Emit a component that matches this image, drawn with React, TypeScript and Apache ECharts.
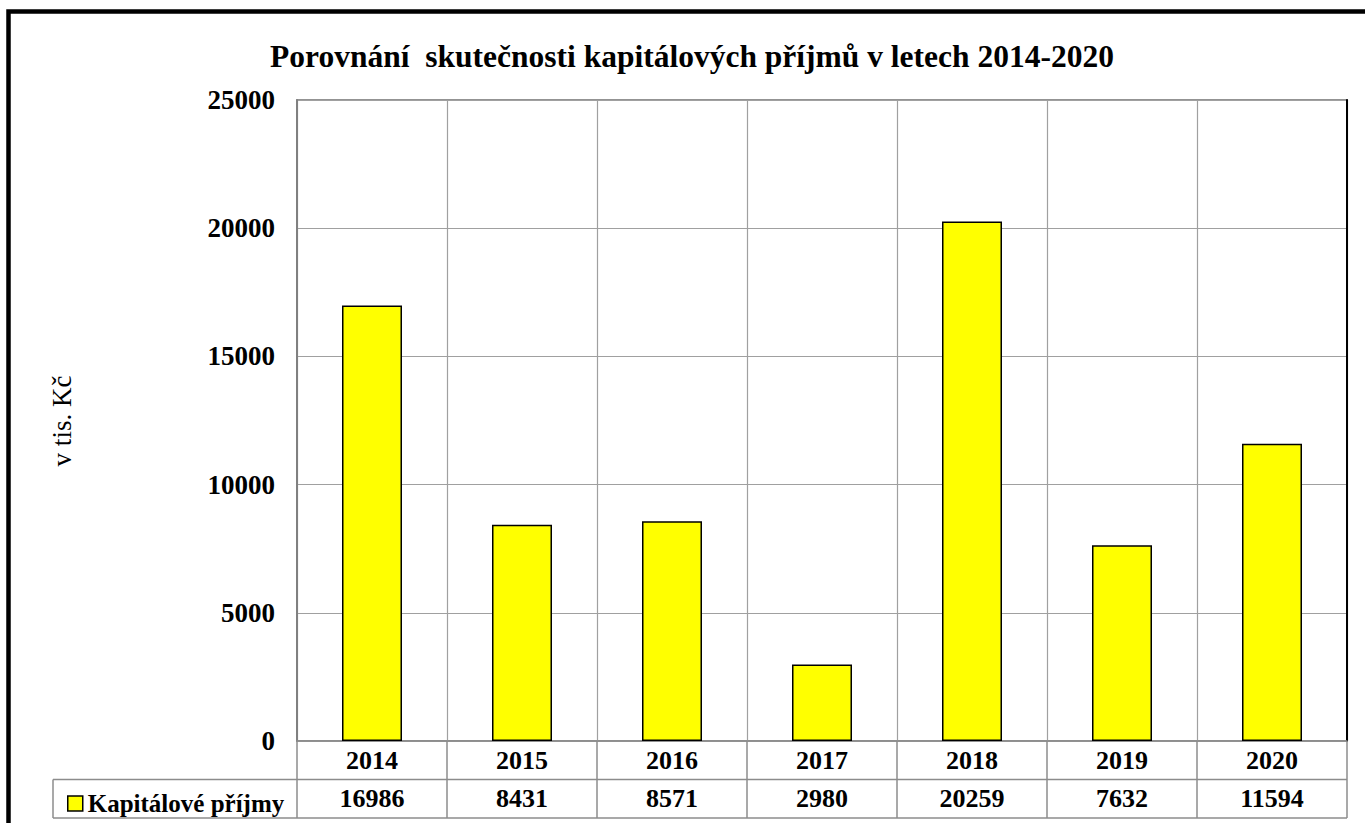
import React, { useEffect, useRef } from "react";
import * as echarts from "echarts";

const categories = ["2014", "2015", "2016", "2017", "2018", "2019", "2020"];
const values = [16986, 8431, 8571, 2980, 20259, 7632, 11594];
const seriesName = "Kapitálové příjmy";
const titleText = "Porovnání  skutečnosti kapitálových příjmů v letech 2014-2020";
const yAxisTitle = "v tis. Kč";

const FONT = "Liberation Serif";

export default function App() {
  const ref = useRef<HTMLDivElement>(null);
  useEffect(() => {
    if (!ref.current) return;
    const chart = echarts.init(ref.current, null, { renderer: "svg" });
    const gridLeft = 297;
    const gridRight = 1347;
    const gridTop = 100;
    const gridBottom = 741;
    const rowH = 38.5;
    const tableLeft = 53;
    const lineColor = "#8c8c8c";
    chart.setOption({
      animation: false,
      backgroundColor: "#ffffff",
      textStyle: { fontFamily: FONT },
      title: {
        text: titleText,
        left: 687,
        top: 35,
        textAlign: "center",
        textStyle: { fontFamily: FONT, fontWeight: "bold", fontSize: 31.5, color: "#000" },
      },
      legend: {
        left: 62,
        top: 786,
        itemWidth: 15,
        itemHeight: 15,
        icon: "rect",
        data: [seriesName],
        textStyle: { fontFamily: FONT, fontWeight: "bold", fontSize: 25, color: "#000", padding: [2, 0, 0, 0] },
        itemStyle: { borderColor: "#000", borderWidth: 1.5 },
      },
      grid: {
        left: gridLeft,
        right: 1365 - gridRight,
        top: gridTop,
        bottom: 823 - gridBottom,
        show: true,
        borderColor: "#707070",
        borderWidth: 1.5,
      },
      xAxis: [
        {
          type: "category",
          data: categories,
          position: "bottom",
          axisLine: { show: true, lineStyle: { color: lineColor, width: 1.5 } },
          axisTick: { show: true, length: rowH * 2, lineStyle: { color: lineColor, width: 1.5 } },
          axisLabel: {
            fontFamily: FONT,
            fontWeight: "bold",
            fontSize: 26,
            color: "#000",
            margin: 6,
          },
          splitLine: { show: true, lineStyle: { color: "#a0a0a0", width: 1.2 } },
        },
        {
          type: "category",
          data: categories,
          position: "bottom",
          offset: rowH,
          axisLine: { show: false },
          axisTick: { show: false },
          axisLabel: {
            fontFamily: FONT,
            fontWeight: "bold",
            fontSize: 26,
            color: "#000",
            margin: 6,
            formatter: (_v: string, i: number) => String(values[i]),
          },
          splitLine: { show: false },
        },
      ],
      yAxis: [
        {
          type: "value",
          min: 0,
          max: 25000,
          interval: 5000,
          axisLine: { show: true, lineStyle: { color: "#808080", width: 2 } },
          axisTick: { show: false },
          axisLabel: {
            fontFamily: FONT,
            fontWeight: "bold",
            fontSize: 27,
            color: "#000",
            margin: 22,
            formatter: (v: number) => String(v),
          },
          splitLine: { show: true, lineStyle: { color: "#a0a0a0", width: 1.2 } },
        },
        {
          type: "value",
          min: 0,
          max: 25000,
          interval: 5000,
          position: "right",
          axisLine: { show: true, lineStyle: { color: "#000", width: 2 } },
          axisTick: { show: false },
          axisLabel: { show: false },
          splitLine: { show: false },
        },
      ],
      series: [
        {
          name: seriesName,
          type: "bar",
          data: values,
          barWidth: "40%",
          itemStyle: { color: "#ffff00", borderColor: "#000", borderWidth: 1.5 },
        },
      ],
      graphic: [
        {
          type: "rect",
          shape: { x: 8.5, y: 11.5, width: 1400, height: 900 },
          style: { fill: "none", stroke: "#000", lineWidth: 4.5 },
          silent: true,
        },
        {
          type: "line",
          shape: { x1: tableLeft, y1: gridBottom + rowH, x2: gridRight, y2: gridBottom + rowH },
          style: { stroke: lineColor, lineWidth: 1.5 },
        },
        {
          type: "line",
          shape: { x1: tableLeft, y1: gridBottom + 2 * rowH, x2: gridRight, y2: gridBottom + 2 * rowH },
          style: { stroke: lineColor, lineWidth: 1.5 },
        },
        {
          type: "line",
          shape: { x1: tableLeft, y1: gridBottom + rowH, x2: tableLeft, y2: gridBottom + 2 * rowH },
          style: { stroke: lineColor, lineWidth: 1.5 },
        },
        {
          type: "text",
          x: 62,
          y: 421,
          rotation: Math.PI / 2,
          style: {
            text: yAxisTitle,
            fontFamily: FONT,
            fontSize: 27,
            fill: "#000",
            textAlign: "center",
            textVerticalAlign: "middle",
          },
        },
      ],
    });
    return () => chart.dispose();
  }, []);
  return (
    <div
      ref={ref}
      style={{ position: "fixed", left: 0, top: 0, width: 1365, height: 823 }}
    />
  );
}
